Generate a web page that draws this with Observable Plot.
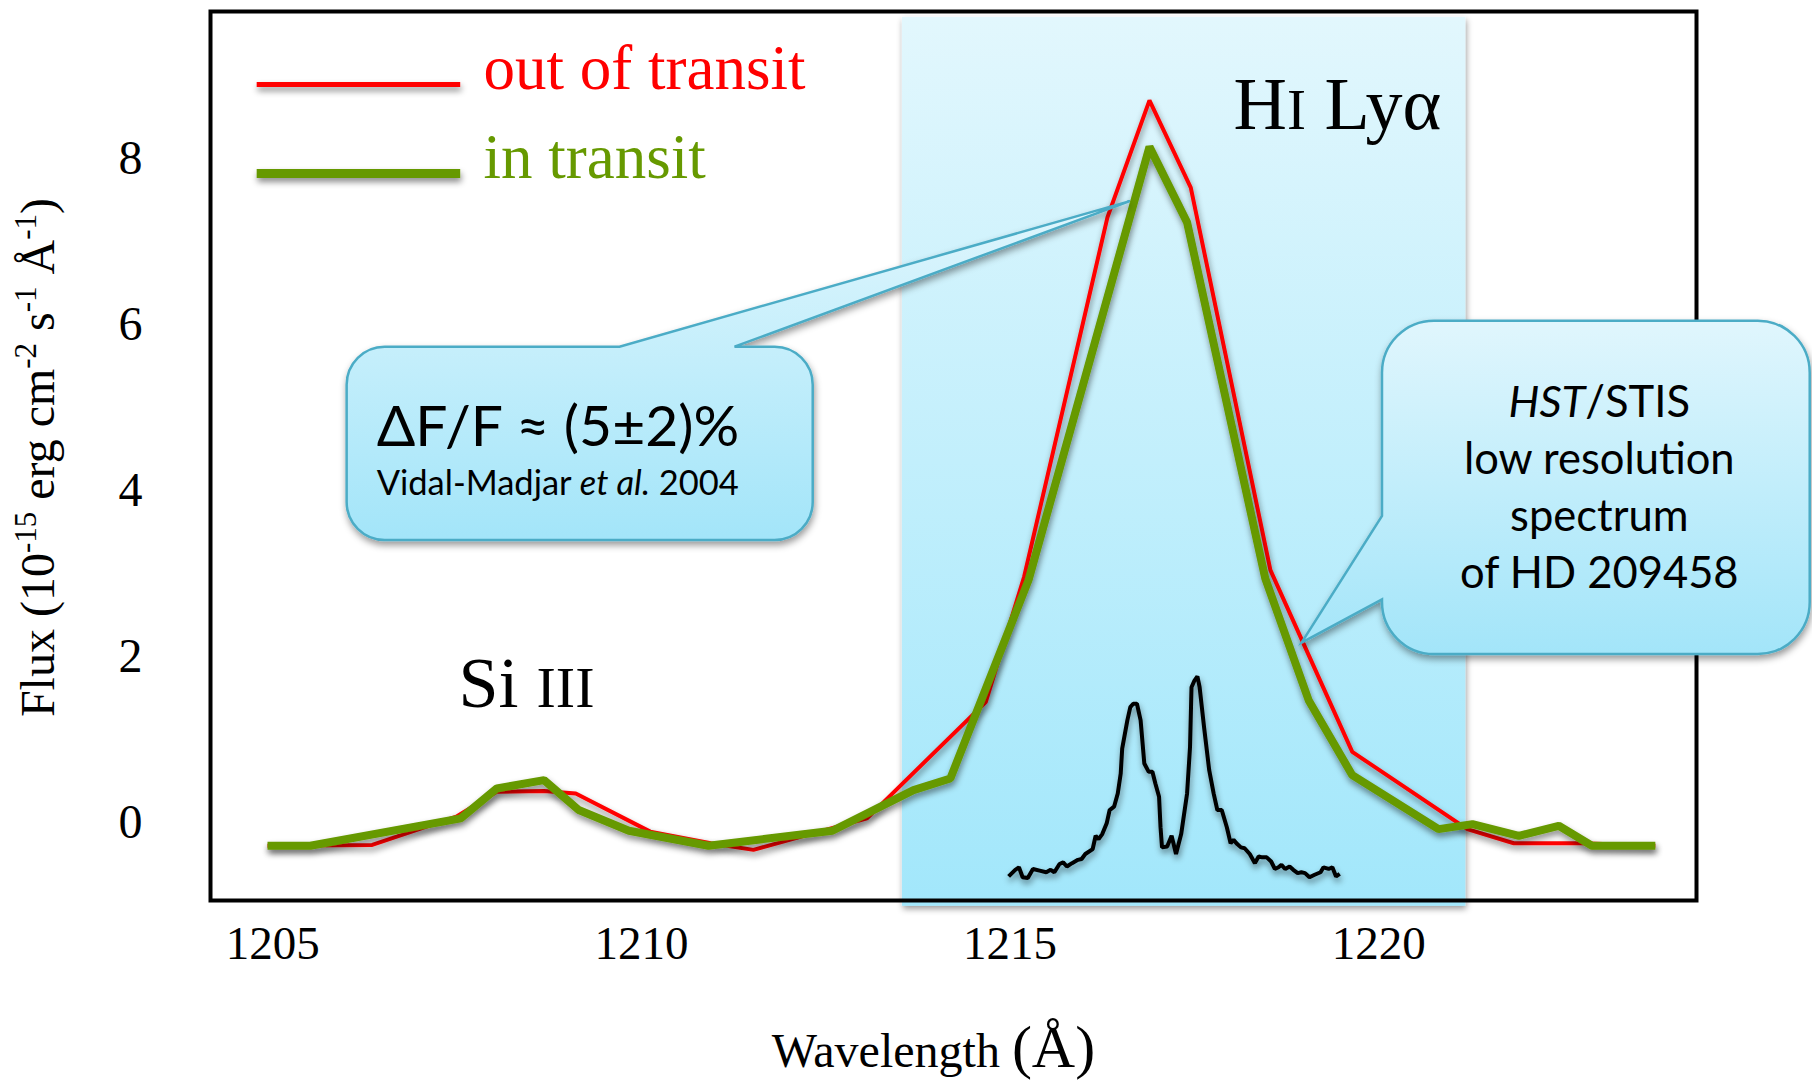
<!DOCTYPE html>
<html>
<head>
<meta charset="utf-8">
<script src="https://cdn.jsdelivr.net/npm/d3@7"></script>
<script src="https://cdn.jsdelivr.net/npm/@observablehq/plot@0.6"></script>
<style>
  html, body { margin: 0; padding: 0; background: #fff; }
</style>
</head>
<body>
<div id="chart"></div>
<script>
// HD 209458 — HST/STIS G140L spectrum around H I Lyman-alpha and Si III

// Low-resolution spectrum outside the planetary transit
const outWavelength = [1204.93, 1206.35, 1207.49, 1208.04, 1208.68, 1209.11, 1210.12, 1210.94, 1211.52, 1213.06, 1214.67, 1215.19, 1216.32, 1216.89, 1217.45, 1218.53, 1219.64, 1221.20, 1221.83, 1222.74, 1223.75];
const outFlux = [-0.28, -0.27, 0.07, 0.37, 0.38, 0.35, -0.11, -0.25, -0.33, 0.05, 1.45, 2.96, 7.29, 8.70, 7.65, 3.04, 0.85, -0.08, -0.25, -0.25, -0.28];

// Low-resolution spectrum during the transit
const inWavelength = [1204.93, 1205.51, 1207.55, 1208.04, 1208.68, 1209.15, 1209.83, 1210.91, 1212.59, 1213.69, 1214.19, 1215.25, 1216.89, 1217.40, 1218.46, 1219.05, 1219.64, 1220.81, 1221.27, 1221.90, 1222.44, 1222.89, 1223.75];
const inFlux = [-0.28, -0.28, 0.05, 0.41, 0.51, 0.15, -0.10, -0.28, -0.10, 0.39, 0.53, 2.92, 8.14, 7.23, 2.94, 1.47, 0.57, -0.08, -0.02, -0.16, -0.04, -0.28, -0.28];

// Resolved Lyman-alpha emission profile (double-peaked, with central absorption)
const profileWavelength = [1214.98, 1215.07, 1215.12, 1215.17, 1215.24, 1215.31, 1215.40, 1215.49, 1215.55, 1215.60, 1215.67, 1215.72, 1215.77, 1215.84, 1215.92, 1215.97, 1216.02, 1216.12, 1216.16, 1216.20, 1216.25, 1216.31, 1216.35, 1216.41, 1216.46, 1216.50, 1216.52, 1216.59, 1216.63, 1216.67, 1216.72, 1216.77, 1216.82, 1216.88, 1216.93, 1216.97, 1217.02, 1217.04, 1217.06, 1217.13, 1217.19, 1217.25, 1217.32, 1217.40, 1217.44, 1217.46, 1217.50, 1217.54, 1217.57, 1217.63, 1217.70, 1217.76, 1217.81, 1217.87, 1217.94, 1217.99, 1218.03, 1218.08, 1218.13, 1218.18, 1218.25, 1218.32, 1218.37, 1218.42, 1218.48, 1218.54, 1218.59, 1218.64, 1218.68, 1218.73, 1218.79, 1218.84, 1218.90, 1218.95, 1219.00, 1219.06, 1219.13, 1219.21, 1219.25, 1219.32, 1219.37, 1219.42, 1219.47];
const profileFlux = [-0.65, -0.57, -0.54, -0.66, -0.67, -0.56, -0.58, -0.60, -0.57, -0.60, -0.50, -0.48, -0.53, -0.49, -0.45, -0.44, -0.38, -0.32, -0.16, -0.20, -0.14, -0.01, 0.15, 0.19, 0.35, 0.59, 0.89, 1.23, 1.39, 1.43, 1.43, 1.23, 0.71, 0.61, 0.61, 0.47, 0.31, -0.06, -0.30, -0.29, -0.16, -0.38, -0.14, 0.35, 0.91, 1.63, 1.71, 1.76, 1.63, 1.15, 0.63, 0.35, 0.15, 0.15, -0.06, -0.25, -0.21, -0.26, -0.30, -0.31, -0.38, -0.49, -0.41, -0.42, -0.42, -0.47, -0.56, -0.54, -0.51, -0.56, -0.53, -0.57, -0.61, -0.60, -0.61, -0.66, -0.63, -0.60, -0.54, -0.56, -0.54, -0.65, -0.62];

// Axis ticks
const xTicks = [1205, 1210, 1215, 1220];
const yTicks = [0, 2, 4, 6, 8];

// Series names and the shaded Lyman-alpha window (Å)
const seriesNames = ["out of transit", "in transit"];
const lyaWindow = [1213.54, 1221.18];

// Annotation texts
const lineLabels = [
  {element: "H", stage: "I", rest: " Lyα"},
  {element: "Si", stage: "III", rest: ""}
];
const depthText = "ΔF/F ≈ (5±2)%";
const citation = ["Vidal-Madjar ", "et al.", " 2004"];
const instrumentLines = ["HST/STIS", "low resolution", "spectrum", "of HD 209458"];

// ---- styling -------------------------------------------------------------
const SERIF = "'Liberation Serif', 'Times New Roman', serif";
const SANS = "Lato, 'Open Sans', sans-serif";
const RED = "#ff0000";
const GREEN = "#669900";

const rows = (ws, fs) => ws.map((w, i) => ({w, f: fs[i]}));
const outOfTransit = rows(outWavelength, outFlux);
const inTransit = rows(inWavelength, inFlux);
const profile = rows(profileWavelength, profileFlux);

// annotation anchors in data space (wavelength, flux)
const legendSpan = [1204.79, 1207.55];
const legendTextX = 1207.86;
const legendLineY = [8.89, 7.82];
const legendTextY = [8.84, 7.77];
const lineLabelAt = [[1218.03, 8.36], [1207.52, 1.39]];
const depthAt = [1206.41, 4.53];
const citationAt = [1206.41, 3.94];
const instrumentAt = [1222.99, 2.82];

const callouts = [
  {left: 1206.01, right: 1212.33, top: 5.727, bottom: 3.398, radius: 38,
   side: "top", base: [1209.71, 1211.27], tip: [1216.63, 7.48]},
  {left: 1220.05, right: 1225.85, top: 6.04, bottom: 2.024, radius: 52,
   side: "left", base: [3.687, 2.683], tip: [1218.96, 2.16]}
];

const plot = Plot.plot({
  width: 1812,
  height: 1081,
  marginLeft: 210,
  marginRight: 116,
  marginTop: 11,
  marginBottom: 181,
  x: {domain: [1204.157, 1224.308]},
  y: {domain: [-0.94, 9.771]},
  style: {fontFamily: SERIF, background: "white", color: "black", overflow: "visible"},
  marks: [
    Plot.rect([lyaWindow], {x1: d => d[0], x2: d => d[1], y1: -1.01, y2: 9.70,
      fill: "url(#bandFill)", ariaDescription: "lya-window"}),
    Plot.frame({stroke: "black", strokeWidth: 4}),
    Plot.axisX({ticks: xTicks, tickFormat: d => String(d), tickSize: 0, tickPadding: 25,
      fontSize: 47, label: null}),
    Plot.axisY({ticks: yTicks, tickSize: 0, tickPadding: 68, fontSize: 48, label: null}),

    // spectra
    Plot.line(outOfTransit, {x: "w", y: "f", stroke: RED, strokeWidth: 4,
      strokeLinejoin: "miter", strokeLinecap: "butt", ariaDescription: "out-of-transit"}),
    Plot.line(inTransit, {x: "w", y: "f", stroke: GREEN, strokeWidth: 8,
      strokeLinejoin: "miter", strokeLinecap: "butt", ariaDescription: "in-transit"}),
    Plot.line(profile, {x: "w", y: "f", stroke: "black", strokeWidth: 4,
      strokeLinejoin: "miter", strokeLinecap: "butt", ariaDescription: "profile"}),

    // legend
    Plot.ruleY([legendLineY[0]], {x1: legendSpan[0], x2: legendSpan[1], stroke: RED,
      strokeWidth: 5, ariaDescription: "legend-swatch"}),
    Plot.ruleY([legendLineY[1]], {x1: legendSpan[0], x2: legendSpan[1], stroke: GREEN,
      strokeWidth: 9, ariaDescription: "legend-swatch"}),
    Plot.text([seriesNames[0]], {text: d => d, x: legendTextX, y: legendTextY[0], fill: RED,
      fontSize: 63, textAnchor: "start", lineAnchor: "bottom"}),
    Plot.text([seriesNames[1]], {text: d => d, x: legendTextX, y: legendTextY[1], fill: GREEN,
      fontSize: 63, textAnchor: "start", lineAnchor: "bottom"}),

    // ion labels
    Plot.text(lineLabels, {text: d => d.element + d.stage + d.rest,
      x: (d, i) => lineLabelAt[i][0], y: (d, i) => lineLabelAt[i][1],
      fontSize: 72, textAnchor: "start", lineAnchor: "bottom",
      ariaDescription: "ion-label"}),

    // axis titles
    Plot.text(["Wavelength (Å)"], {text: d => d, frameAnchor: "bottom", dx: -20, dy: 166,
      fontSize: 48, textAnchor: "middle", lineAnchor: "bottom", ariaDescription: "x-title"}),
    Plot.text(["Flux"], {text: d => d, frameAnchor: "left", dx: -172, dy: 1.5, rotate: -90,
      fontSize: 48, textAnchor: "middle", lineAnchor: "middle", ariaDescription: "y-title"}),

    // callout texts
    Plot.text([depthText], {text: d => d, x: depthAt[0], y: depthAt[1], fontFamily: SANS,
      fontSize: 57, textAnchor: "start", lineAnchor: "bottom", ariaDescription: "callout-text"}),
    Plot.text([citation.join("")], {text: d => d, x: citationAt[0], y: citationAt[1],
      fontFamily: SANS, fontSize: 34.5, textAnchor: "start", lineAnchor: "bottom",
      ariaDescription: "citation"}),
    Plot.text([instrumentLines.join("\n")], {text: d => d, x: instrumentAt[0], y: instrumentAt[1],
      fontFamily: SANS, fontSize: 43.5, lineHeight: 1.315, textAnchor: "middle",
      lineAnchor: "bottom", ariaDescription: "instrument"})
  ]
});

document.getElementById("chart").append(plot);

// ---- gradients, shadows and callout shapes ---------------------------------
const svg = d3.select(plot);
const defs = svg.insert("defs", ":first-child");
const mark = name => `g[aria-description="${name}"]`;

function gradient(id, top, bottom) {
  const g = defs.append("linearGradient").attr("id", id)
    .attr("x1", 0).attr("y1", 0).attr("x2", 0).attr("y2", 1);
  g.append("stop").attr("offset", "0%").attr("stop-color", top);
  g.append("stop").attr("offset", "100%").attr("stop-color", bottom);
}
gradient("bandFill", "#e2f7fd", "#a2e7fb");
gradient("calloutFill", "#e0f6fd", "#a3e5f9");

function shadow(id, dx, dy, blur, opacity) {
  defs.append("filter").attr("id", id)
    .attr("filterUnits", "userSpaceOnUse")
    .attr("x", -50).attr("y", -50).attr("width", 1912).attr("height", 1181)
    .append("feDropShadow")
    .attr("dx", dx).attr("dy", dy).attr("stdDeviation", blur)
    .attr("flood-color", "#000").attr("flood-opacity", opacity);
}
shadow("lineShadow", 1, 4, 3, 0.45);
shadow("bandShadow", 1, 3, 3, 0.4);
shadow("boxShadow", 1, 4, 3.5, 0.4);

svg.select(mark("lya-window")).attr("filter", "url(#bandShadow)");
for (const name of ["out-of-transit", "in-transit", "profile", "legend-swatch"]) {
  svg.selectAll(mark(name)).attr("filter", "url(#lineShadow)");
}

const sx = plot.scale("x").apply, sy = plot.scale("y").apply;

function calloutPath(c) {
  const x1 = sx(c.left), x2 = sx(c.right), y1 = sy(c.top), y2 = sy(c.bottom), r = c.radius;
  const tip = [sx(c.tip[0]), sy(c.tip[1])];
  const p = d3.path();
  p.moveTo(x1 + r, y1);
  if (c.side === "top") {
    const [a, b] = c.base.map(sx);
    p.lineTo(a, y1); p.lineTo(tip[0], tip[1]); p.lineTo(b, y1);
  }
  p.lineTo(x2 - r, y1);
  p.arcTo(x2, y1, x2, y1 + r, r);
  p.lineTo(x2, y2 - r);
  p.arcTo(x2, y2, x2 - r, y2, r);
  p.lineTo(x1 + r, y2);
  p.arcTo(x1, y2, x1, y2 - r, r);
  if (c.side === "left") {
    const [upper, lower] = c.base.map(sy);
    p.lineTo(x1, lower); p.lineTo(tip[0], tip[1]); p.lineTo(x1, upper);
  }
  p.lineTo(x1, y1 + r);
  p.arcTo(x1, y1, x1 + r, y1, r);
  p.closePath();
  return p.toString();
}

const firstCalloutText = plot.querySelector(mark("callout-text"));
const boxes = d3.create("svg:g").attr("filter", "url(#boxShadow)");
boxes.selectAll("path").data(callouts).join("path")
  .attr("d", calloutPath)
  .attr("fill", "url(#calloutFill)")
  .attr("stroke", "#4bacc6")
  .attr("stroke-width", 2.5)
  .attr("stroke-linejoin", "miter");
plot.insertBefore(boxes.node(), firstCalloutText);

// ---- mixed-style text runs ---------------------------------------------------
function runs(node, parts) {
  node.textContent = "";
  for (const [str, attrs] of parts) {
    const t = document.createElementNS("http://www.w3.org/2000/svg", "tspan");
    t.textContent = str;
    for (const k in attrs) t.setAttribute(k, attrs[k]);
    node.append(t);
  }
}

svg.selectAll(`${mark("ion-label")} text`).each(function(_, i) {
  const d = lineLabels[i];
  const big = [74, 72][i], small = [57, 58][i];
  this.setAttribute("font-size", big);
  runs(this, [[d.element + (i === 1 ? " " : ""), {}], [d.stage, {"font-size": small}], [d.rest, {}]]);
});

svg.select(`${mark("x-title")} text`).each(function() {
  runs(this, [["Wavelength ", {}], ["(Å)", {"font-size": 60}]]);
});

svg.select(`${mark("y-title")} text`).each(function() {
  const up = {"font-size": 31, dy: -18}, down = {dy: 18};
  runs(this, [
    ["Flux (10", {}], ["-15", up], [" erg cm", down], ["-2", up], [" s", down],
    ["-1", up], [" Å", down], ["-1", up], [")", down]
  ]);
});

svg.select(`${mark("citation")} text`).each(function() {
  runs(this, [[citation[0], {}], [citation[1], {"font-style": "italic"}], [citation[2], {}]]);
});

svg.select(`${mark("instrument")} text tspan`).each(function() {
  runs(this, [["HST", {"font-style": "italic"}], ["/STIS", {}]]);
});
</script>
</body>
</html>
